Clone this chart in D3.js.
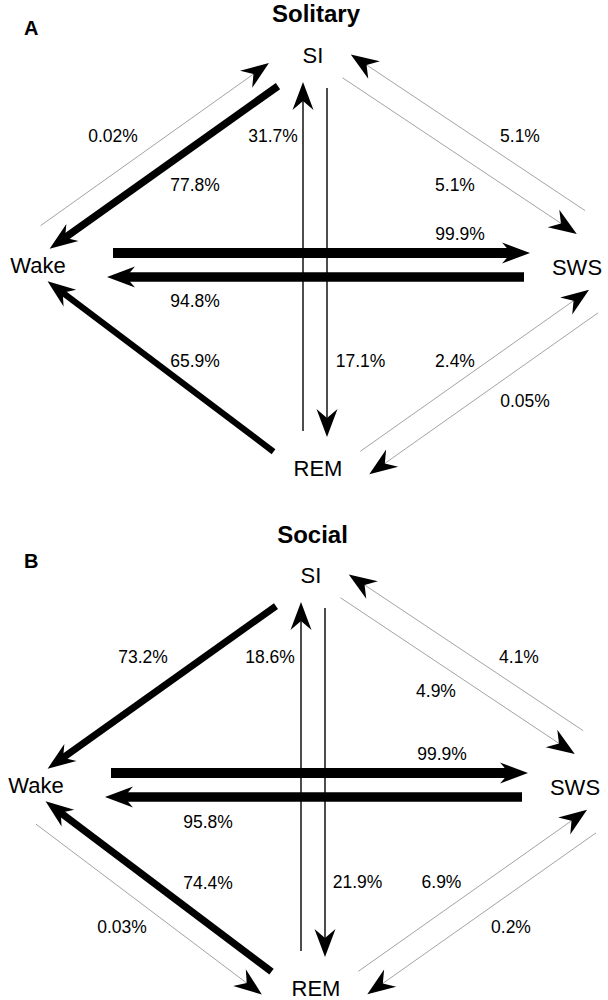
<!DOCTYPE html>
<html><head><meta charset="utf-8">
<script src="https://cdn.jsdelivr.net/npm/d3@7"></script>
<style>body{margin:0;background:#fff} svg{display:block}</style>
</head><body><svg id="c" width="608" height="1000"></svg>
<script>
// ---------- data ----------
const states = ["SI", "Wake", "SWS", "REM"];
const panelTitles = ["Solitary", "Social"];
const panelLetters = ["A", "B"];
const fromState = ["Wake", "SI", "REM", "SI", "SWS", "SI", "Wake", "SWS", "REM", "Wake", "REM", "SWS"];
const toState   = ["SI", "Wake", "SI", "REM", "SI", "SWS", "SWS", "Wake", "Wake", "REM", "SWS", "REM"];
const solitaryPct = [0.02, 77.8, 31.7, 17.1, 5.1, 5.1, 99.9, 94.8, 65.9, null, 2.4, 0.05];
const socialPct   = [null, 73.2, 18.6, 21.9, 4.1, 4.9, 99.9, 95.8, 74.4, 0.03, 6.9, 0.2];

// ---------- layout (design units = panel A pixel frame) ----------
const W = 608, H = 1000;
const vertex = {SI: [315, 45], Wake: [6, 265], SWS: [645, 265], REM: [315, 498]};
const trim = {
  SI:   {REM: 40, Wake: 51, SWS: 38},
  Wake: {SWS: 104, SI: 48, REM: 46},
  SWS:  {Wake: 118, SI: 77, REM: 63},
  REM:  {SI: 64, Wake: 58, SWS: 61}
};
const nodeLabel = {SI: [313, 63], Wake: [38, 272.5], SWS: [577, 274.5], REM: [318, 476]};
const panelOrigin = [[0, 0], [-2, 520]];
const titlePos = [[316, 21.5], [314.5, 23]];
const letterPos = [[24, 35], [26, 48]];
const labelPos = [
  [[113,136],[195,185],[273,136],[360.5,361],[520,136],[455,185],[460,234],[195,301],[195,361],null,[455,361],[525,401]],
  [null,[145,137],[272,137],[359.5,362],[521,137],[438,171],[444,234],[210,302],[210,363],[124,407],[443.5,362],[513,407]]
];
const diagCenter = [320, 263];
const notch = 19, headLen = 28, headHalf = 10.5, pairGap = 12, tipShift = 3;
const sideNodes = new Set(["Wake", "SWS"]);
const widthScale = d3.scaleLinear().domain([60, 100]).range([5.5, 10]);
function strokeStyle(p) {
  if (p >= 50) return {w: widthScale(p), c: "#000"};
  if (p >= 10) return {w: 1.4, c: "#000"};
  return {w: 0.8, c: "#8c8c8c"};
}
const FONT = "'Liberation Sans', Arial, sans-serif";

const svg = d3.select("#c");
svg.append("rect").attr("width", W).attr("height", H).attr("fill", "#fff");

panelTitles.forEach((title, pi) => {
  const pcts = pi === 0 ? solitaryPct : socialPct;
  const [ox, oy] = panelOrigin[pi];
  const xs = d3.scaleLinear().domain([0, W]).range([ox, ox + W]);
  const ys = d3.scaleLinear().domain([0, H]).range([oy, oy + H]);
  const line = d3.line().x(d => xs(d[0])).y(d => ys(d[1]));
  const g = svg.append("g");

  const edges = fromState.map((s, i) => ({s, t: toState[i], pct: pcts[i], i}))
                         .filter(e => e.pct != null);

  edges.forEach(e => {
    const P = vertex[e.s], Q = vertex[e.t];
    let ux = Q[0] - P[0], uy = Q[1] - P[1];
    const L = Math.hypot(ux, uy); ux /= L; uy /= L;
    let nx = uy, ny = -ux;
    const diagonal = sideNodes.has(e.s) !== sideNodes.has(e.t);
    if (diagonal) {
      const mx = (P[0] + Q[0]) / 2 - diagCenter[0], my = (P[1] + Q[1]) / 2 - diagCenter[1];
      const outward = (mx * nx + my * ny) > 0;
      const wantOut = sideNodes.has(e.s);
      if (outward !== wantOut) { nx = -nx; ny = -ny; }
    }
    const a = trim[e.s][e.t] + tipShift, b = trim[e.t][e.s] - tipShift;
    const start = [P[0] + ux * a + nx * pairGap, P[1] + uy * a + ny * pairGap];
    const tip = [Q[0] - ux * b + nx * pairGap, Q[1] - uy * b + ny * pairGap];
    const end = [tip[0] - ux * (notch - 2), tip[1] - uy * (notch - 2)];
    const st = strokeStyle(e.pct);
    g.append("path").attr("d", line([start, end]))
      .attr("stroke", st.c).attr("stroke-width", st.w).attr("fill", "none");
    const back = [tip[0] - ux * headLen, tip[1] - uy * headLen];
    const head = [tip,
      [back[0] + nx * headHalf, back[1] + ny * headHalf],
      [tip[0] - ux * notch, tip[1] - uy * notch],
      [back[0] - nx * headHalf, back[1] - ny * headHalf]];
    g.append("path").attr("d", line(head) + "Z").attr("fill", "#000");
  });

  edges.forEach(e => {
    const p = labelPos[pi][e.i];
    g.append("text").attr("x", xs(p[0])).attr("y", ys(p[1] + 6))
      .attr("text-anchor", "middle").attr("font-family", FONT).attr("font-size", 17.5)
      .attr("fill", "#000").text(e.pct + "%");
  });

  states.forEach(s => {
    const p = nodeLabel[s];
    g.append("text").attr("x", xs(p[0])).attr("y", ys(p[1]))
      .attr("text-anchor", "middle").attr("font-family", FONT).attr("font-size", 22)
      .attr("fill", "#000").text(s);
  });

  g.append("text").attr("x", xs(titlePos[pi][0])).attr("y", ys(titlePos[pi][1]))
    .attr("text-anchor", "middle").attr("font-family", FONT).attr("font-size", 24)
    .attr("font-weight", "bold").text(title);
  g.append("text").attr("x", xs(letterPos[pi][0])).attr("y", ys(letterPos[pi][1]))
    .attr("font-family", FONT).attr("font-size", 20)
    .attr("font-weight", "bold").text(panelLetters[pi]);
});
</script></body></html>
